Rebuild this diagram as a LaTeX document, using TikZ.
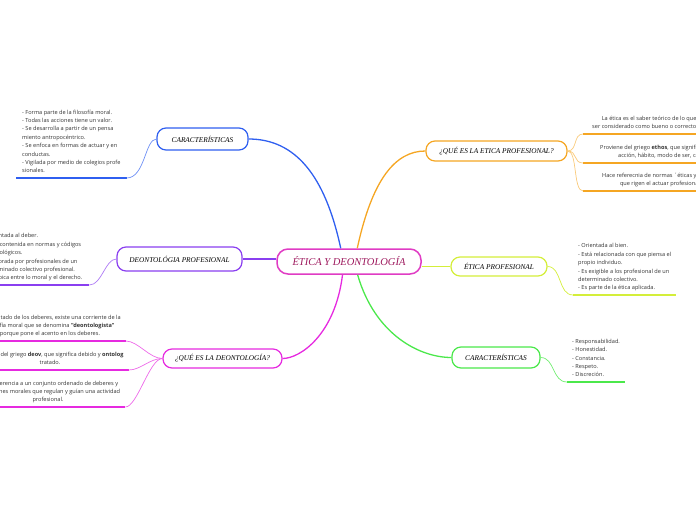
\documentclass[tikz,border=0pt]{standalone}
\usepackage{fontspec}
\newfontfamily\leaffont{Open Sans}
\newfontfamily\topicfont{Liberation Serif}
\usetikzlibrary{calc}

\definecolor{brBlue}{HTML}{2F5FF0}
\definecolor{brPurple}{HTML}{8A3FF0}
\definecolor{brMagenta}{HTML}{E62AE0}
\definecolor{brOrange}{HTML}{F5A623}
\definecolor{brLime}{HTML}{D4EE3A}
\definecolor{brGreen}{HTML}{4BE84B}
\definecolor{ctrPink}{HTML}{E03CC4}
\definecolor{ctrText}{HTML}{9E1A5E}

\begin{document}
\begin{tikzpicture}[x=1pt, y=-1pt,
    topic/.style={draw, line width=1.2pt, fill=white, rounded corners=9pt,
        font=\topicfont\itshape\fontsize{7.3}{8}\selectfont, text=black, inner sep=0pt},
    leaf/.style={font=\leaffont\fontsize{5.6}{8.4}\selectfont, text=black!80,
        inner xsep=5pt, inner ysep=5pt, text depth=0pt},
    uline/.style={line width=2pt},
    branch/.style={line width=1.3pt},
    twig/.style={line width=0.7pt},
]
\useasboundingbox (0,0) rectangle (696,520);
\clip (0,0) rectangle (696,520);

% ===================== CENTRE =====================
\node[topic, draw=ctrPink, line width=1.5pt, rounded corners=11pt,
      minimum width=144pt, minimum height=25pt,
      font=\topicfont\itshape\fontsize{10.5}{11}\selectfont, text=ctrText]
      (ctr) at (349,261.5) {ÉTICA Y DEONTOLOGÍA};

% ===================== TOPICS =====================
\node[topic, draw=brBlue, minimum width=91pt, minimum height=22pt]
      (car) at (202.5,139) {CARACTERÍSTICAS};
\node[topic, draw=brPurple, minimum width=125pt, minimum height=24pt]
      (dpro) at (179.5,259) {DEONTOLÓGIA PROFESIONAL};
\node[topic, draw=brMagenta, minimum width=119pt, minimum height=19pt]
      (qdeo) at (222.5,358.5) {¿QUÉ ES LA DEONTOLOGÍA?};
\node[topic, draw=brOrange, minimum width=141pt, minimum height=20pt]
      (qeti) at (496.5,151) {¿QUÉ ES LA ETICA PROFESIONAL?};
\node[topic, draw=brLime, minimum width=96pt, minimum height=19pt]
      (epro) at (499,266.5) {ÉTICA PROFESIONAL};
\node[topic, draw=brGreen, minimum width=88pt, minimum height=21pt]
      (car2) at (496,357.5) {CARACTERÍSTICAS};

% ===================== BRANCHES =====================
\draw[branch, brBlue] (ctr.122) .. controls (325,175) and (295,139) .. (car.east);
\draw[branch, brPurple] (ctr.west |- dpro.east) -- (dpro.east);
\draw[branch, brMagenta] (ctr.244) .. controls (335,335) and (300,358.5) .. (qdeo.east);
\draw[branch, brOrange] (ctr.58) .. controls (372,180) and (395,151) .. (qeti.west);
\draw[branch, brLime] (ctr.east |- epro.west) -- (epro.west);
\draw[branch, brGreen] (ctr.303) .. controls (375,335) and (420,357.5) .. (car2.west);

% ===================== LEAVES (left) =====================
\node[leaf, align=left, anchor=south west, inner xsep=6pt] (carL) at (16,178) {%
    - Forma parte de la filosofía moral.\\
    - Todas las acciones tiene un valor.\\
    - Se desarrolla a partir de un pensa\\
    miento antropocéntrico.\\
    - Se enfoca en formas de actuar y en\\
    conductas.\\
    - Vigilada por medio de colegios profe\\
    sionales.};
\draw[uline, brBlue] (carL.south west) -- (carL.south east);
\draw[twig, brBlue!70] (car.west) .. controls (145,139) and (145,178) .. (carL.south east);

\node[leaf, align=left, anchor=south west, inner xsep=7pt] (dproL) at (-23,285) {%
    - Orientada al deber.\\
    - Está contenida en normas y códigos\\
    deontológicos.\\
    - Elaborada por profesionales de un\\
    determinado colectivo profesional.\\
    - Se ubica entre lo moral y el derecho.};
\draw[uline, brPurple] (dproL.south west) -- (dproL.south east);
\draw[twig, brPurple!70] (dpro.west) .. controls (105,259) and (102,285) .. (dproL.south east);

% three leaves of the magenta topic
\node[leaf, align=center, anchor=south] (qdeoA) at (50,341) {%
    En el tratado de los deberes, existe una corriente de la\\
    filosofía moral que se denomina \textbf{"deontologista"}\\
    porque pone el acento en los deberes.};
\node[leaf, align=center, anchor=south] (qdeoB) at (50,370) {%
    Proviene del griego \textbf{deov}, que significa debido y \textbf{ontolog}\\
    tratado.};
\node[leaf, align=center, anchor=south] (qdeoC) at (48,407) {%
    Hace referencia a un conjunto ordenado de deberes y\\
    obligaciones morales que regulan y guían una actividad\\
    profesional.};
\foreach \lf in {qdeoA, qdeoB, qdeoC} {
    \draw[uline, brMagenta] (\lf.south west) -- (\lf.south east);
    \draw[twig, brMagenta!70] (qdeo.west) .. controls ($(qdeo.west)+(-13,0)$)
        and ($(\lf.south east)+(12,0)$) .. (\lf.south east);
}

% ===================== LEAVES (right) =====================
\node[leaf, align=center, anchor=south west, inner xsep=9pt] (qetiA) at (583,134) {%
    La ética es el saber teórico de lo que puede\\
    ser considerado como bueno o correcto en la vida.};
\node[leaf, align=center, anchor=south west, inner xsep=17pt] (qetiB) at (583,163) {%
    Proviene del griego \textbf{ethos}, que significa costumbre,\\
    acción, hábito, modo de ser, carácter.};
\node[leaf, align=center, anchor=south west, inner xsep=19pt] (qetiC) at (583,191) {%
    Hace referecnia de normas ´éticas y morales\\
    que rigen el actuar profesional.};
\foreach \lf in {qetiA, qetiB, qetiC} {
    \draw[uline, brOrange] (\lf.south west) -- (\lf.south east);
    \draw[twig, brOrange!60] (qeti.east) .. controls ($(qeti.east)+(10,0)$)
        and ($(\lf.south west)+(-10,0)$) .. (\lf.south west);
}

\node[leaf, align=left, anchor=south west, inner xsep=5pt] (eproL) at (573,295) {%
    - Orientada al bien.\\
    - Está relacionada con que piensa el\\
    propio individuo.\\
    - Es exigible a los profesional de un\\
    determinado colectivo.\\
    - Es parte de la ética aplicada.};
\draw[uline, brLime] (eproL.south west) -- (eproL.south east);
\draw[twig, brLime] (epro.east) .. controls (562,266.5) and (558,295) .. (eproL.south west);

\node[leaf, align=left, anchor=south west] (car2L) at (567,382) {%
    - Responsabilidad.\\
    - Honestidad.\\
    - Constancia.\\
    - Respeto.\\
    - Discreción.};
\draw[uline, brGreen] (car2L.south west) -- (car2L.south east);
\draw[twig, brGreen!80] (car2.east) .. controls (555,357.5) and (552,382) .. (car2L.south west);

\end{tikzpicture}
\end{document}
